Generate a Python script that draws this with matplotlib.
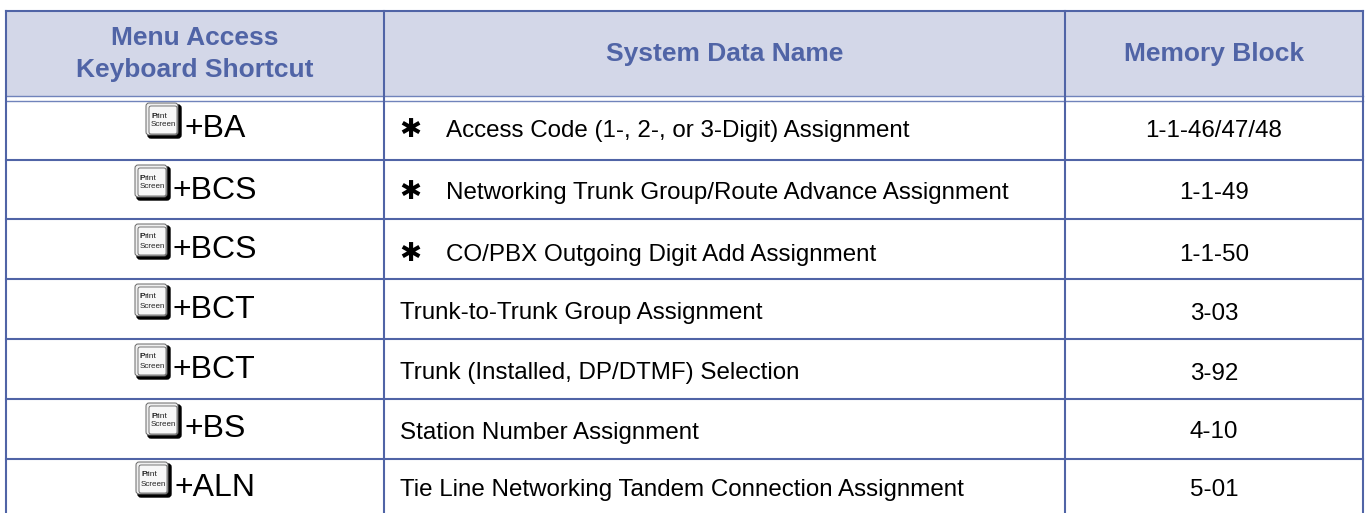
import matplotlib
matplotlib.use("Agg")
import matplotlib.pyplot as plt
from matplotlib.patches import FancyBboxPatch, Rectangle

headers = ["Menu Access\nKeyboard Shortcut", "System Data Name", "Memory Block"]
shortcuts = ["+BA", "+BCS", "+BCS", "+BCT", "+BCT", "+BS", "+ALN"]
names = [
    "Access Code (1-, 2-, or 3-Digit) Assignment",
    "Networking Trunk Group/Route Advance Assignment",
    "CO/PBX Outgoing Digit Add Assignment",
    "Trunk-to-Trunk Group Assignment",
    "Trunk (Installed, DP/DTMF) Selection",
    "Station Number Assignment",
    "Tie Line Networking Tandem Connection Assignment",
]
starred = [True, True, True, False, False, False, False]
blocks = ["1-1-46/47/48", "1-1-49", "1-1-50", "3-03", "3-92", "4-10", "5-01"]

# layout in image pixels
key_left = [146, 135, 135, 135, 135, 146, 136]
key_top = [103, 165, 224, 284, 344, 403, 462]
baselines = [137, 199, 261, 319.5, 379.5, 438.5, 496]
row_lines = [101, 159.5, 219.3, 279, 339, 398.7, 458.5]
col_x = [6, 384, 1065, 1363]
top = 11
head_bottom = 95.5

blue = "#5064a6"
head_bg = "#d3d7e8"

plt.rcParams["font.family"] = ["Liberation Sans", "DejaVu Sans"]
fig = plt.figure(figsize=(13.69, 5.13), dpi=100)
ax = fig.add_axes([0, 0, 1, 1])
ax.set_xlim(0, 1369)
ax.set_ylim(513, 0)
ax.axis("off")

ax.add_patch(Rectangle((col_x[0], top), col_x[3] - col_x[0], head_bottom - top, fc=head_bg, ec="none"))

# grid
ax.plot([col_x[0], col_x[3]], [top, top], color=blue, lw=1.5)
ax.plot([col_x[0], col_x[3]], [head_bottom, head_bottom], color="#7083bb", lw=1)
for y in row_lines:
    if y == row_lines[0]:
        ax.plot([col_x[0], col_x[3]], [y, y], color="#7083bb", lw=1)
    else:
        ax.plot([col_x[0], col_x[3]], [y, y], color=blue, lw=1.5)
for x in col_x:
    ax.plot([x, x], [top, 513], color=blue, lw=1.5)

# header text
head_centers = [195, 724.5, 1214]
for x, h in zip(head_centers, headers):
    ax.text(x, 54, h, color=blue, fontsize=19, fontweight="bold", ha="center", va="center", linespacing=1.45)


def draw_key(x, y):
    # keycap icon with a heavy shadow on the right and bottom
    ax.add_patch(FancyBboxPatch((x + 2, y + 2), 33, 33, boxstyle="round,pad=0,rounding_size=3", fc="black", ec="black", lw=1))
    ax.add_patch(FancyBboxPatch((x, y), 32, 32, boxstyle="round,pad=0,rounding_size=3", fc="#efefef", ec="#666666", lw=0.7))
    ax.add_patch(FancyBboxPatch((x + 3, y + 3), 28, 28, boxstyle="round,pad=0,rounding_size=2", fc="#f7f7f7", ec="#444444", lw=0.5))
    ax.text(x + 5, y + 13, "P", fontsize=6, fontweight="bold", color="#222222", ha="left", va="center")
    ax.text(x + 9.5, y + 13, "rint", fontsize=6, color="#222222", ha="left", va="center")
    ax.text(x + 5, y + 22, "Screen", fontsize=5.8, color="#222222", ha="left", va="center")


for i in range(len(shortcuts)):
    base = baselines[i]
    draw_key(key_left[i], key_top[i])
    ax.text(key_left[i] + 38, key_top[i] + 34, shortcuts[i], fontsize=23, color="black", ha="left", va="baseline")
    if starred[i]:
        ax.text(410, base - 7, "\u2731", fontsize=19, color="black", ha="center", va="center", family="DejaVu Sans")
        ax.text(446, base, names[i], fontsize=17.35, color="black", ha="left", va="baseline")
    else:
        ax.text(400, base, names[i], fontsize=17.35, color="black", ha="left", va="baseline")
    ax.text(1214, base, blocks[i], fontsize=17.35, color="black", ha="center", va="baseline")

fig.savefig("out.png", dpi=100)
